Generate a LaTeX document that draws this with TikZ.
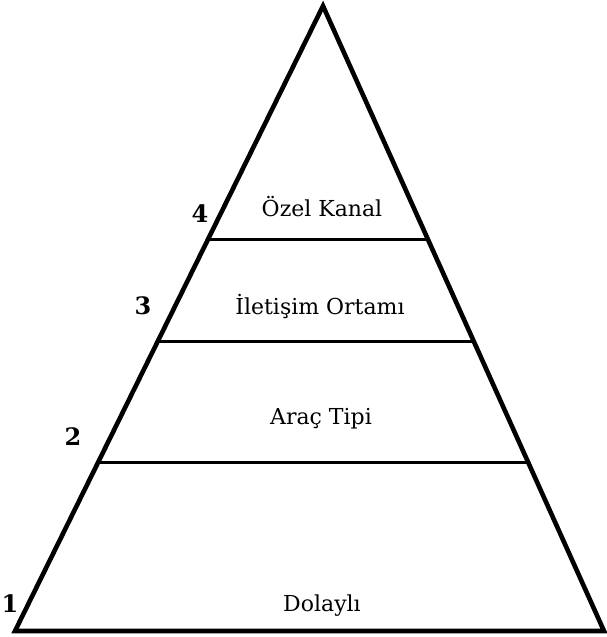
\documentclass[tikz,border=0pt]{standalone}
\usepackage{fontspec}
\setmainfont{DejaVu Serif}
\usetikzlibrary{calc, positioning}

\begin{document}
\begin{tikzpicture}[
        x=1pt,
        y=-1pt,
        side/.style={line width=4.6pt, line join=miter},
        level/.style={line width=3pt},
        label/.style={font=\fontsize{22}{26}\selectfont, inner sep=0pt},
        num/.style={font=\fontsize{24}{26}\selectfont\bfseries, inner sep=0pt}
    ]
    \useasboundingbox (0,0) rectangle (606,637);

    % Corners of the pyramid
    \coordinate (apex) at (323,6);
    \coordinate (bl) at (15,631);
    \coordinate (br) at (604,631);

    % Ends of the level lines
    \coordinate (l4) at ($(apex)!0.3738!(bl)$);
    \coordinate (r4) at ($(apex)!0.3738!(br)$);
    \coordinate (l3) at ($(apex)!0.5367!(bl)$);
    \coordinate (r3) at ($(apex)!0.5367!(br)$);
    \coordinate (l2) at ($(apex)!0.7300!(bl)$);
    \coordinate (r2) at ($(apex)!0.7300!(br)$);

    % Outline and levels
    \draw[side] (apex) -- (bl) -- (br) -- cycle;
    \draw[level] (l4) -- (r4);
    \draw[level] (l3) -- (r3);
    \draw[level] (l2) -- (r2);

    % Level names
    \node[label] (kanal) at (322,207) {Özel Kanal};
    \node[label] (ortam) at (320,306) {İletişim Ortamı};
    \node[label] (arac) at (321,419) {Araç Tipi};
    \node[label] (dolayli) at (322,606) {Dolaylı};

    % Level numbers
    \node[num] (n4) at (200,214) {4};
    \node[num] (n3) at (143,306) {3};
    \node[num] (n2) at (73,437) {2};
    \node[num] (n1) at (10,604) {1};

\end{tikzpicture}
\end{document}
